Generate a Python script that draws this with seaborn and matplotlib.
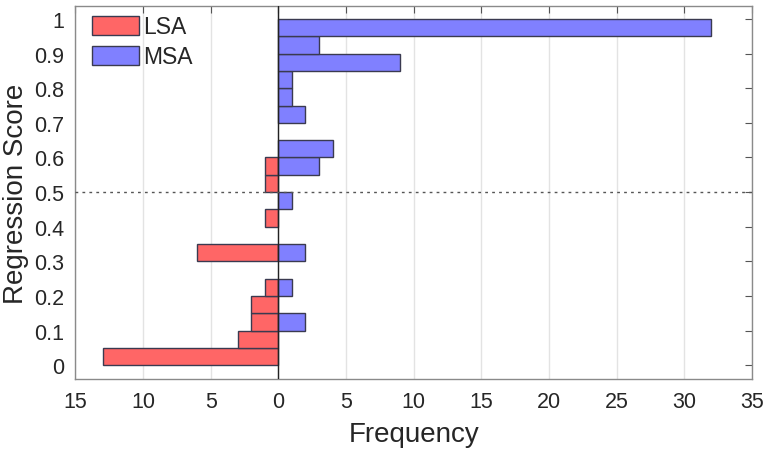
import numpy as np
import pandas as pd
import matplotlib
matplotlib.use('Agg')
import matplotlib.pyplot as plt
import seaborn as sns
from matplotlib.patches import Patch

# bin centres of the regression score histogram (bin width 0.05)
score_bins = [0.025, 0.075, 0.125, 0.175, 0.225, 0.275, 0.325, 0.375, 0.425, 0.475,
              0.525, 0.575, 0.625, 0.675, 0.725, 0.775, 0.825, 0.875, 0.925, 0.975]
lsa_counts = [13, 3, 2, 2, 1, 0, 6, 0, 1, 0, 1, 1, 0, 0, 0, 0, 0, 0, 0, 0]
msa_counts = [0, 0, 2, 0, 1, 0, 2, 0, 0, 1, 0, 3, 4, 0, 2, 1, 1, 9, 3, 32]
x_ticks = [-15, -10, -5, 0, 5, 10, 15, 20, 25, 30, 35]
y_ticks = [0, 0.1, 0.2, 0.3, 0.4, 0.5, 0.6, 0.7, 0.8, 0.9, 1]

sns.set_style('white')
plt.rcParams['font.family'] = ['Liberation Sans', 'DejaVu Sans']

# long table, LSA drawn to the left as negative counts
df = pd.concat([
    pd.DataFrame({'score': score_bins, 'count': [-c for c in lsa_counts], 'group': 'LSA'}),
    pd.DataFrame({'score': score_bins, 'count': msa_counts, 'group': 'MSA'}),
])
df = df[df['count'] != 0]

fig = plt.figure(figsize=(7.67, 4.52), dpi=100)
ax = fig.add_axes([0.0984, 0.1593, 0.882, 0.8252])

sns.barplot(data=df, x='count', y='score', hue='group', orient='y', native_scale=True,
            dodge=False, width=1, palette={'LSA': '#ff6666', 'MSA': '#8080ff'},
            saturation=1, edgecolor='#3a3a50', linewidth=1.0, ax=ax, legend=False,
            zorder=3)

ax.axvline(0, color='#222222', lw=1.0, zorder=4)
ax.axhline(0.5, color='#555555', lw=1.0, ls=(0, (2, 3)), zorder=4)

ax.set_xlim(-15, 35)
ax.set_ylim(-0.04, 1.0376)
ax.set_xticks(x_ticks)
ax.set_xticklabels([str(abs(t)) for t in x_ticks])
ax.set_yticks(y_ticks)
ax.set_yticklabels([f'{t:g}' for t in y_ticks])
ax.xaxis.grid(True, color='#e3e3e3', lw=1.0)
ax.set_axisbelow(True)

ax.tick_params(direction='in', length=5, width=0.8, color='#555555',
               labelsize=15.5, labelcolor='#262626', top=True, right=True)
ax.tick_params(axis='x', pad=9)
ax.tick_params(axis='y', pad=8)
for s in ax.spines.values():
    s.set_color('#8a8a8a')
    s.set_linewidth(1.0)

ax.set_xlabel('Frequency', fontsize=20, color='#262626', labelpad=6)
ax.set_ylabel('Regression Score', fontsize=20, color='#262626', labelpad=4)

handles = [Patch(facecolor='#ff6666', edgecolor='#3a3a50', label='LSA'),
           Patch(facecolor='#8080ff', edgecolor='#3a3a50', label='MSA')]
ax.legend(handles=handles, loc='upper left', bbox_to_anchor=(0.024, 0.975),
          frameon=False, fontsize=16.5, handlelength=2.05, handleheight=0.9,
          handletextpad=0.2, labelspacing=0.3, borderpad=0, borderaxespad=0)

fig.savefig('out.png', dpi=100)
